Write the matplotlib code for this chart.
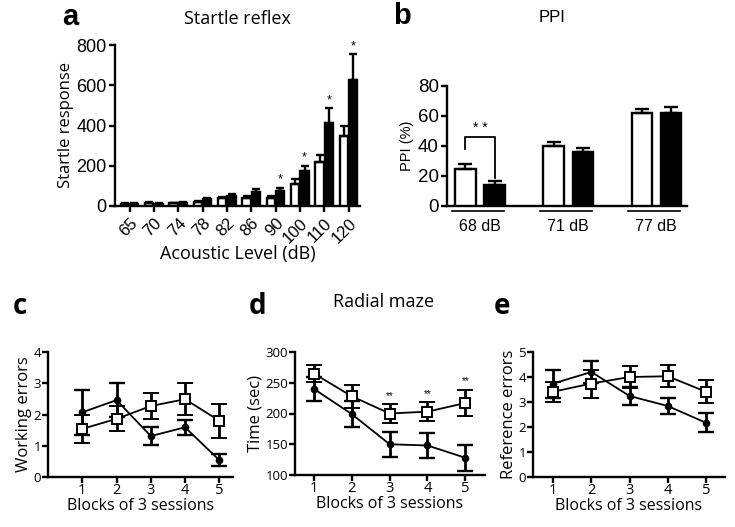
import matplotlib
matplotlib.use("Agg")
import matplotlib.pyplot as plt
from matplotlib.transforms import blended_transform_factory

# ---------------- data ----------------
# Panel a: startle reflex
startle_levels = ["65", "70", "74", "78", "82", "86", "90", "100", "110", "120"]
startle_ctrl = [12, 15, 13, 18, 38, 40, 42, 110, 218, 350]
startle_ctrl_err = [4, 4, 4, 5, 7, 8, 8, 22, 35, 47]
startle_mut = [10, 10, 17, 35, 52, 68, 76, 173, 410, 628]
startle_mut_err = [4, 4, 4, 7, 10, 17, 12, 28, 75, 125]
startle_sig = [False, False, False, False, False, False, True, True, True, True]

# Panel b: PPI
ppi_levels = ["68 dB", "71 dB", "77 dB"]
ppi_ctrl = [25, 40, 62]
ppi_ctrl_err = [3, 3, 3]
ppi_mut = [14, 36, 62]
ppi_mut_err = [3, 3, 4]

# Panels c-e: radial maze
blocks = [1, 2, 3, 4, 5]
working_ctrl = [1.54, 1.86, 2.27, 2.49, 1.80]
working_ctrl_err = [0.44, 0.40, 0.42, 0.51, 0.54]
working_mut = [2.07, 2.46, 1.31, 1.59, 0.54]
working_mut_err = [0.72, 0.54, 0.30, 0.24, 0.20]

time_ctrl = [265, 228, 200, 203, 217]
time_ctrl_err = [14, 19, 15, 15, 21]
time_mut = [240, 199, 150, 148, 128]
time_mut_err = [19, 21, 20, 21, 21]
time_sig = [False, False, True, True, True]

ref_ctrl = [3.41, 3.74, 4.00, 4.03, 3.41]
ref_ctrl_err = [0.41, 0.56, 0.43, 0.44, 0.46]
ref_mut = [3.74, 4.20, 3.24, 2.84, 2.17]
ref_mut_err = [0.56, 0.43, 0.36, 0.33, 0.38]

# ---------------- style ----------------
ARIAL = "Liberation Sans"
MYRIAD = "Open Sans"
LW = 1.7

fig = plt.figure(figsize=(7.35, 5.27), dpi=100)
W, H = 735.0, 527.0


def rect(l, r, b, t):
    return [l / W, 1 - b / H, (r - l) / W, (b - t) / H]


def style_axes(ax, tickfont, ticksize):
    for s in ("top", "right"):
        ax.spines[s].set_visible(False)
    for s in ("left", "bottom"):
        ax.spines[s].set_linewidth(LW)
    ax.tick_params(width=LW, length=4, labelsize=ticksize, pad=2)
    for lab in ax.get_xticklabels() + ax.get_yticklabels():
        lab.set_family(tickfont)


# ---------------- panel a ----------------
axa = fig.add_axes(rect(115, 360, 206, 45))
xa = list(range(len(startle_levels)))
bw = 0.34
off = 0.19
xc = [x - off for x in xa]
xm = [x + off for x in xa]
axa.bar(xc, startle_ctrl, bw, color="white", edgecolor="black", linewidth=LW,
        yerr=[[0] * len(xa), startle_ctrl_err],
        error_kw=dict(ecolor="black", elinewidth=LW, capsize=3, capthick=LW), zorder=3)
axa.bar(xm, startle_mut, bw, color="black", edgecolor="black", linewidth=LW,
        yerr=[[0] * len(xa), startle_mut_err],
        error_kw=dict(ecolor="black", elinewidth=LW, capsize=3, capthick=LW), zorder=3)
for x, v, e, s in zip(xm, startle_mut, startle_mut_err, startle_sig):
    if s:
        axa.text(x, v + e + 12, "*", ha="center", va="bottom", fontsize=9, family=ARIAL)
axa.set_xlim(-0.6, 9.47)
axa.set_ylim(0, 800)
axa.set_yticks([0, 200, 400, 600, 800])
axa.set_xticks(xa)
axa.set_xticklabels(startle_levels, rotation=45, ha="right", rotation_mode="anchor")
style_axes(axa, ARIAL, 13)
axa.tick_params(axis="x", pad=3, labelsize=12)
axa.set_ylabel("Startle response", family=MYRIAD, fontsize=12, labelpad=2)
axa.set_xlabel("Acoustic Level (dB)", family=MYRIAD, fontsize=13, labelpad=-1)
axa.set_title("Startle reflex", family=MYRIAD, fontsize=13, pad=15)
fig.text(70 / W, 1 - 17 / H, "a", family=ARIAL, fontsize=21, fontweight="bold",
         ha="center", va="center")

# ---------------- panel b ----------------
axb = fig.add_axes(rect(447, 687, 206, 86))
xb = list(range(len(ppi_levels)))
bwb = 0.23
offb = 0.165
xbc = [x - offb for x in xb]
xbm = [x + offb for x in xb]
axb.bar(xbc, ppi_ctrl, bwb, color="white", edgecolor="black", linewidth=LW,
        yerr=[[0] * 3, ppi_ctrl_err],
        error_kw=dict(ecolor="black", elinewidth=LW, capsize=5, capthick=LW), zorder=3)
axb.bar(xbm, ppi_mut, bwb, color="black", edgecolor="black", linewidth=LW,
        yerr=[[0] * 3, ppi_mut_err],
        error_kw=dict(ecolor="black", elinewidth=LW, capsize=5, capthick=LW), zorder=3)
axb.set_xlim(-0.375, 2.35)
axb.set_ylim(0, 80)
axb.set_yticks([0, 20, 40, 60, 80])
axb.set_xticks([])
style_axes(axb, ARIAL, 13.5)
axb.set_ylabel("PPI (%)", family=ARIAL, fontsize=10.5, labelpad=3)
# significance bracket
axb.plot([xbc[0], xbc[0], xbm[0], xbm[0]], [38, 46, 46, 19], color="black", lw=1.3)
axb.text((xbc[0] + xbm[0]) / 2, 47, "* *", ha="center", va="bottom", fontsize=10, family=ARIAL)
tr = blended_transform_factory(axb.transData, axb.transAxes)
for x, lab in zip(xb, ppi_levels):
    axb.plot([x - 0.32, x + 0.27], [-0.045, -0.045], transform=tr, color="black",
             lw=1.2, clip_on=False)
    axb.text(x, -0.17, lab, transform=tr, ha="center", va="center", fontsize=11.5,
             family=ARIAL)
fig.text(552 / W, 1 - 17 / H, "PPI", family=ARIAL, fontsize=12, ha="center", va="center")
fig.text(402 / W, 1 - 16 / H, "b", family=ARIAL, fontsize=21, fontweight="bold",
         ha="center", va="center")


# ---------------- panels c, d, e ----------------
def maze_panel(r, ctrl, ctrl_err, mut, mut_err, ylim, yticks, xlim, ylabel):
    ax = fig.add_axes(r)
    ax.errorbar(blocks, mut, yerr=mut_err, color="black", lw=1.3, marker="o",
                markersize=4.5, markerfacecolor="black", ecolor="black",
                elinewidth=LW + 0.3, capsize=6, capthick=LW, zorder=3)
    ax.errorbar(blocks, ctrl, yerr=ctrl_err, color="black", lw=1.3, marker="s",
                markersize=7, markerfacecolor="white", markeredgecolor="black",
                markeredgewidth=1.4, ecolor="black", elinewidth=LW + 0.3,
                capsize=6, capthick=LW, zorder=4)
    ax.set_xlim(*xlim)
    ax.set_ylim(*ylim)
    ax.set_yticks(yticks)
    ax.set_xticks(blocks)
    style_axes(ax, MYRIAD, 10)
    ax.tick_params(axis="y", labelsize=9.5, pad=1)
    ax.tick_params(axis="x", labelsize=10.5, pad=0)
    ax.set_xlabel("Blocks of 3 sessions", family=MYRIAD, fontsize=11.5, labelpad=0)
    ax.set_ylabel(ylabel, family=MYRIAD, fontsize=12, labelpad=1)
    return ax


axc = maze_panel(rect(48, 233, 477, 352), working_ctrl, working_ctrl_err,
                 working_mut, working_mut_err, (0, 4), [0, 1, 2, 3, 4], (0, 5.4),
                 "Working errors")
axd = maze_panel(rect(295, 485, 475, 352), time_ctrl, time_ctrl_err,
                 time_mut, time_mut_err, (100, 300), [100, 150, 200, 250, 300],
                 (0.5, 5.52), "Time (sec)")
for x, v, e, s in zip(blocks, time_ctrl, time_ctrl_err, time_sig):
    if s:
        axd.text(x, v + e + 6, "**", ha="center", va="bottom", fontsize=7, family=ARIAL)
axe = maze_panel(rect(533, 725, 477, 352), ref_ctrl, ref_ctrl_err,
                 ref_mut, ref_mut_err, (0, 5), [0, 1, 2, 3, 4, 5], (0.47, 5.5),
                 "Reference errors")

fig.text(384 / W, 1 - 302 / H, "Radial maze", family=MYRIAD, fontsize=13,
         ha="center", va="center")
fig.text(20 / W, 1 - 307 / H, "c", family=MYRIAD, fontsize=20, fontweight="bold",
         ha="center", va="center")
fig.text(258 / W, 1 - 306 / H, "d", family=MYRIAD, fontsize=20, fontweight="bold",
         ha="center", va="center")
fig.text(502 / W, 1 - 306 / H, "e", family=MYRIAD, fontsize=20, fontweight="bold",
         ha="center", va="center")

fig.savefig("out.png", dpi=100, facecolor="white")
